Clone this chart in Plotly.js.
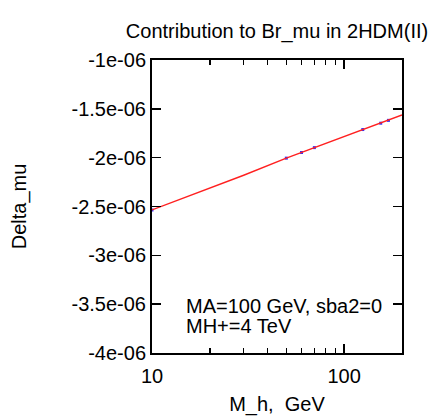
<!DOCTYPE html>
<html>
<head>
<meta charset="utf-8">
<script src="https://cdn.plot.ly/plotly-3.0.1.min.js"></script>
<style>html,body{margin:0;padding:0;background:#fff;}#chart{width:436px;height:416px;}</style>
</head>
<body>
<div id="chart"></div>
<script>
// Curve (red line): M_h [GeV] vs Delta_mu
var curveX = [10, 14, 20, 30, 50, 70, 100, 150, 200];
var curveY = [-2.535e-6, -2.426e-6, -2.316e-6, -2.180e-6, -2.005e-6, -1.897e-6, -1.786e-6, -1.655e-6, -1.563e-6];
// Sample points (blue)
var pointX = [10, 50, 60, 70, 125, 155, 170];
var pointY = [-2.535e-6, -2.005e-6, -1.947e-6, -1.897e-6, -1.712e-6, -1.647e-6, -1.618e-6];
// Axis ticks
var yTickVals = [-1e-6, -1.5e-6, -2e-6, -2.5e-6, -3e-6, -3.5e-6, -4e-6];
var yTickText = ["-1e-06", "-1.5e-06", "-2e-06", "-2.5e-06", "-3e-06", "-3.5e-06", "-4e-06"];
var xTickVals = [10, 100];
var xTickText = ["10", "100"];
// Annotation lines
var noteLines = ["MA=100 GeV, sba2=0", "MH+=4 TeV"];

var font = "Liberation Sans, Arial, Helvetica, sans-serif";
var fs = 20;

var traces = [
  {x: pointX, y: pointY, mode: "markers", type: "scatter",
   marker: {color: "#3030ff", size: 3, symbol: "square"}, showlegend: false, hoverinfo: "skip"},
  {x: curveX, y: curveY, mode: "lines", type: "scatter",
   line: {color: "#ff2020", width: 1.4}, showlegend: false, hoverinfo: "skip"}
];

var noteY = [0.162, 0.092];
var annotations = noteLines.map(function (t, i) {
  return {text: t, xref: "paper", yref: "paper", x: 0.128, y: noteY[i],
          xanchor: "left", yanchor: "middle", align: "left", showarrow: false,
          font: {family: font, size: fs, color: "#000"}};
});

var layout = {
  width: 436, height: 416,
  margin: {l: 152, r: 34, t: 60, b: 63},
  paper_bgcolor: "#ffffff", plot_bgcolor: "#ffffff",
  font: {family: font, size: fs, color: "#000"},
  title: {text: "Contribution to Br_mu in 2HDM(II)", x: 0.5, xref: "paper", xanchor: "center",
          y: 1 - 31/416, yanchor: "middle", font: {family: font, size: fs, color: "#000"}},
  xaxis: {type: "log", range: [1, Math.log10(200)], tickmode: "array", tickvals: xTickVals, ticktext: xTickText,
          ticks: "inside", ticklen: 9, tickwidth: 1.5, tickcolor: "#000", ticklabelstandoff: 4,
          minor: {dtick: "D1", ticks: "inside", ticklen: 5, tickwidth: 1.5, tickcolor: "#000", showgrid: false},
          showline: true, linecolor: "#000", linewidth: 2, mirror: "ticks",
          showgrid: false, zeroline: false,
          tickfont: {family: font, size: fs, color: "#000"},
          title: {text: "M_h,\u00a0\u00a0GeV", font: {family: font, size: fs, color: "#000"}, standoff: 12}},
  yaxis: {range: [-4e-6, -1e-6], tickmode: "array", tickvals: yTickVals, ticktext: yTickText,
          ticks: "inside", ticklen: 9, tickwidth: 1.5, tickcolor: "#000",
          showline: true, linecolor: "#000", linewidth: 2, mirror: "ticks",
          showgrid: false, zeroline: false,
          tickfont: {family: font, size: fs, color: "#000"},
          title: {text: "Delta_mu", font: {family: font, size: fs, color: "#000"}, standoff: 40}},
  annotations: annotations
};

Plotly.newPlot("chart", traces, layout, {displayModeBar: false, staticPlot: true});
</script>
</body>
</html>
